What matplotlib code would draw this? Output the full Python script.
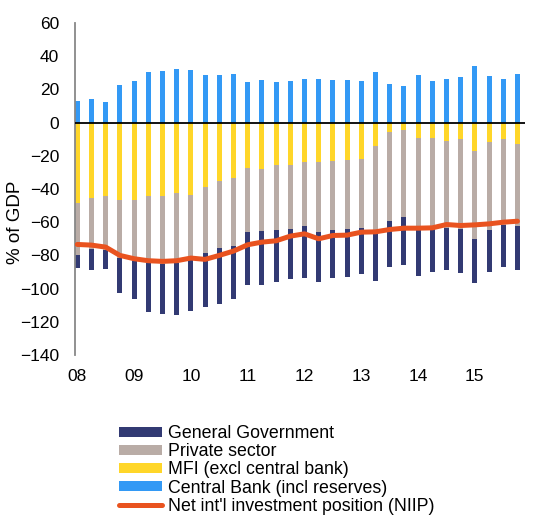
import matplotlib
matplotlib.use("Agg")
import matplotlib.pyplot as plt
import numpy as np

plt.rcParams['font.family'] = ['Liberation Sans', 'DejaVu Sans']

# quarterly, 2008Q1 .. 2015Q4, % of GDP
years = ['08', '09', '10', '11', '12', '13', '14', '15']

central_bank = [12.8, 14.0, 12.6, 22.4, 25.0, 30.4, 31.2, 32.4, 31.8, 28.6, 28.6, 29.0,
                24.2, 25.6, 24.4, 24.8, 26.0, 26.0, 25.8, 25.4, 25.2, 30.4, 23.2, 22.2,
                28.8, 25.2, 26.0, 27.2, 33.8, 28.0, 26.0, 29.0]
mfi = [-48.4, -45.6, -44.2, -46.4, -46.6, -44.4, -44.2, -42.4, -43.4, -38.8, -35.0, -33.6,
       -27.2, -27.8, -25.4, -25.4, -23.6, -24.0, -23.0, -22.4, -22.2, -14.2, -5.6, -4.4,
       -9.4, -9.2, -11.0, -10.0, -17.0, -11.6, -10.0, -12.8]
private = [-31.2, -30.4, -32.8, -35.2, -36.6, -40.0, -40.8, -42.0, -39.6, -39.8, -40.6, -40.6,
           -38.8, -37.8, -39.2, -38.6, -38.8, -42.0, -41.6, -41.8, -41.0, -51.8, -53.6, -52.6,
           -53.0, -54.4, -52.6, -54.0, -53.4, -52.8, -51.6, -49.6]
gen_gov = [-7.8, -12.6, -11.0, -20.8, -23.2, -29.6, -30.2, -31.6, -30.6, -32.6, -33.4, -32.2,
           -31.8, -32.2, -31.4, -30.2, -31.0, -30.0, -29.2, -29.0, -27.8, -29.4, -27.6, -28.6,
           -30.0, -26.2, -25.0, -26.8, -26.4, -25.8, -25.4, -26.4]
niip = [-73.4, -73.8, -75.0, -80.0, -82.0, -83.2, -83.6, -83.2, -81.6, -82.4, -80.0, -77.4,
        -73.6, -72.0, -71.2, -68.4, -67.0, -70.0, -68.0, -67.8, -66.0, -65.8, -64.4, -63.6,
        -63.6, -63.4, -61.4, -62.0, -61.6, -61.0, -60.0, -59.4]

c_gg = '#323a73'
c_priv = '#b9aca6'
c_mfi = '#ffd629'
c_cb = '#3399f5'
c_niip = '#e9531f'

x = np.arange(len(niip))
mfi_a = np.array(mfi)
priv_bottom = mfi_a
gg_bottom = mfi_a + np.array(private)

fig = plt.figure(figsize=(5.48, 5.16), dpi=100)
ax = fig.add_axes([75/548, 1 - 355/516, 450/548, 332/516])

w = 0.36
b1 = ax.bar(x, gen_gov, w, bottom=gg_bottom, color=c_gg, label='General Government', zorder=2)
b2 = ax.bar(x, private, w, bottom=priv_bottom, color=c_priv, label='Private sector', zorder=2)
b3 = ax.bar(x, mfi, w, color=c_mfi, label='MFI (excl central bank)', zorder=2)
b4 = ax.bar(x, central_bank, w, color=c_cb, label='Central Bank (incl reserves)', zorder=2)
ax.axhline(0, color='black', lw=1.3, zorder=3)
l1, = ax.plot(x, niip, color=c_niip, lw=3.6, solid_capstyle='round',
              solid_joinstyle='round', label="Net int'l investment position (NIIP)", zorder=4)

ax.set_xlim(-0.16, 31.53)
ax.set_ylim(-140, 60)
ax.set_yticks(range(-140, 61, 20))
ax.set_xticks(x[::4])
ax.set_xticklabels(years)
ax.tick_params(length=0, labelsize=12.5)
ax.tick_params(axis='y', pad=11.5)
ax.tick_params(axis='x', pad=10)

for s in ['top', 'right', 'bottom']:
    ax.spines[s].set_visible(False)
ax.spines['left'].set_color('#888888')
ax.spines['left'].set_linewidth(1.3)

fig.text(15/548, 1 - 222/516, '% of GDP', rotation=90, ha='center', va='center', fontsize=13.5)

fig.legend(handles=[b1, b2, b3, b4, l1], loc='upper left',
           bbox_to_anchor=(119/548, 1 - 425/516), frameon=False, fontsize=12.8,
           handlelength=2.4, handleheight=0.5, handletextpad=0.34,
           labelspacing=0.07, borderpad=0, borderaxespad=0)

fig.savefig('out.png', dpi=100)
